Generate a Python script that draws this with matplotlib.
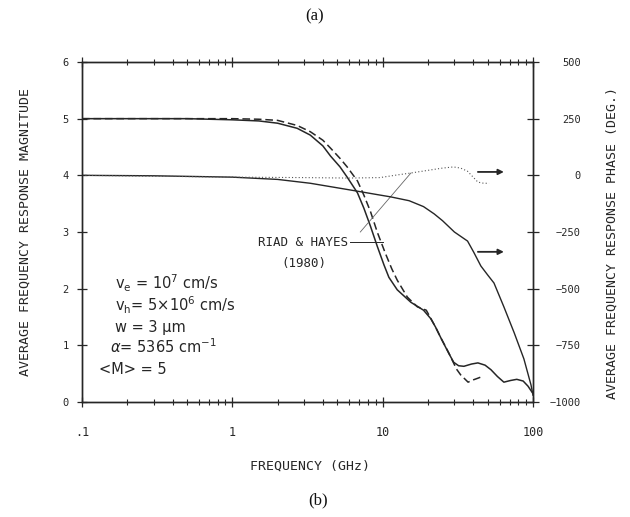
import matplotlib
matplotlib.use("Agg")
import matplotlib.pyplot as plt
from matplotlib.ticker import FixedLocator, FixedFormatter, NullFormatter

# magnitude, this work (solid)
freq_mag = [0.1, 0.5, 1.0, 1.5, 2.0, 2.7, 3.3, 4.0, 4.5, 5.2, 5.8, 6.8, 7.5, 8.3,
            9.2, 10.2, 11.0, 12.5, 15.4, 18.7, 20.9, 22.5, 24.4, 27.5, 29.7,
            32.0, 34.7, 39.0, 43.0, 48.0, 52.5, 58.0, 64.0, 71.0, 78.0, 86.0,
            92.6, 97.0, 100.0]
mag = [5.0, 5.0, 4.98, 4.96, 4.92, 4.83, 4.71, 4.52, 4.34, 4.15, 3.97, 3.69,
       3.42, 3.1, 2.75, 2.42, 2.2, 1.98, 1.76, 1.62, 1.47, 1.32, 1.13, 0.86,
       0.7, 0.64, 0.63, 0.67, 0.69, 0.65, 0.57, 0.45, 0.35, 0.38, 0.4, 0.37,
       0.28, 0.2, 0.15]

# magnitude, Riad & Hayes (1980) (dashed)
freq_rh = [0.1, 1.0, 1.5, 2.0, 2.7, 3.3, 4.0, 4.5, 5.2, 5.8, 6.8, 7.5, 8.3, 9.2,
           10.4, 11.5, 12.5, 14.6, 17.0, 19.5, 22.5, 24.4, 27.5, 29.0, 31.0,
           33.0, 37.0, 40.0, 43.0, 47.0]
mag_rh = [5.0, 5.0, 4.99, 4.97, 4.88, 4.77, 4.62, 4.48, 4.3, 4.15, 3.9, 3.65,
          3.36, 3.0, 2.63, 2.35, 2.15, 1.85, 1.68, 1.62, 1.32, 1.13, 0.87,
          0.74, 0.58, 0.48, 0.35, 0.39, 0.42, 0.46]

# phase in degrees, this work (solid)
freq_ph = [0.1, 0.3, 1.0, 2.0, 3.3, 4.5, 6.8, 9.2, 11.3, 15.0, 18.7, 22.0, 25.0,
           30.0, 36.7, 40.4, 45.0, 50.0, 55.0, 64.0, 75.0, 87.0, 97.0, 100.0]
phase = [0, -2, -8, -18, -35, -50, -70, -85, -95, -112, -138, -170, -200,
         -250, -290, -340, -400, -440, -475, -580, -695, -810, -925, -970]

# phase in degrees, Riad & Hayes (1980) (dotted)
freq_ph_rh = [0.1, 1.0, 3.0, 6.0, 9.6, 12.0, 15.3, 20.0, 25.0, 29.6, 33.0,
              36.7, 40.0, 43.0, 47.0, 51.0]
phase_rh = [0, -8, -10, -12, -10, 0, 10, 22, 32, 37, 32, 18, -8, -30, -35, -35]

x_ticks = [0.1, 1, 10, 100]
x_ticklabels = [".1", "1", "10", "100"]
mag_ticks = [0, 1, 2, 3, 4, 5, 6]
phase_ticks = [-1000, -750, -500, -250, 0, 250, 500]

INK = "#262626"
MONO = "DejaVu Sans Mono"

fig = plt.figure(figsize=(6.3, 5.17), dpi=100)
ax = fig.add_axes([82 / 630, 1 - 402 / 517, (533 - 82) / 630, (402 - 62) / 517])
ax.set_xscale("log")
ax.set_xlim(0.1, 100)
ax.set_ylim(0, 6)

ax.plot(freq_mag, mag, color=INK, lw=1.1)
ax.plot(freq_rh, mag_rh, color=INK, lw=1.1, linestyle=(0, (5, 2.5)))

ax2 = ax.twinx()
ax2.set_ylim(-1000, 500)
ax2.plot(freq_ph, phase, color=INK, lw=1.0)
ax2.plot(freq_ph_rh, phase_rh, color="#555555", lw=0.8, linestyle=(0, (1, 2)))

for a in (ax, ax2):
    for s in a.spines.values():
        s.set_color(INK)
        s.set_linewidth(1.0)

ax.xaxis.set_major_locator(FixedLocator(x_ticks))
ax.xaxis.set_major_formatter(FixedFormatter(x_ticklabels))
ax.xaxis.set_minor_formatter(NullFormatter())
ax.tick_params(axis="x", which="major", direction="inout", length=7, width=0.9,
               top=True, pad=14, labelsize=8.5, colors=INK)
ax.tick_params(axis="x", which="minor", direction="inout", length=4, width=0.8,
               top=True, colors=INK)
ax.set_yticks(mag_ticks)
ax.tick_params(axis="y", direction="inout", length=7, width=0.9, pad=6,
               labelsize=7.5, colors=INK)
ax2.set_yticks(phase_ticks)
ax2.tick_params(axis="y", direction="inout", length=9, width=0.9, pad=30,
                labelsize=7.5, colors=INK)
for lab in ax2.get_yticklabels():
    lab.set_horizontalalignment("right")
for lab in ax.get_xticklabels() + ax.get_yticklabels() + ax2.get_yticklabels():
    lab.set_family(MONO)

# reference label with leader lines
ax.text(5.9, 2.82, "RIAD & HAYES", ha="right", va="center", fontsize=9,
        family=MONO, color=INK)
ax.text(2.97, 2.45, "(1980)", ha="center", va="center", fontsize=9,
        family=MONO, color=INK)
ax.plot([6.1, 10.0], [2.82, 2.82], color=INK, lw=0.7)
ax.plot([7.1, 15.4], [3.0, 4.04], color="#666666", lw=0.6)

# arrows pointing to the phase axis
for y in (4.06, 2.65):
    ax.annotate("", xy=(64, y), xytext=(43, y),
                arrowprops=dict(arrowstyle="-|>", color=INK, lw=1.3,
                                mutation_scale=8, shrinkA=0, shrinkB=0))

params = [
    (0.166, 2.1, r"v$_\mathrm{e}$ = 10$^7$ cm/s"),
    (0.166, 1.71, r"v$_\mathrm{h}$= 5$\times$10$^6$ cm/s"),
    (0.166, 1.32, "w = 3 µm"),
    (0.154, 0.97, r"$\alpha$= 5365 cm$^{-1}$"),
    (0.13, 0.58, "<M> = 5"),
]
for x, y, s in params:
    ax.text(x, y, s, ha="left", va="center", fontsize=10.5, color=INK)

fig.text(25 / 630, 1 - 232 / 517, "AVERAGE FREQUENCY RESPONSE MAGNITUDE",
         rotation=90, ha="center", va="center", fontsize=9.5, family=MONO,
         color=INK)
fig.text(612 / 630, 1 - 243 / 517, "AVERAGE FREQUENCY RESPONSE PHASE (DEG.)",
         rotation=90, ha="center", va="center", fontsize=9.5, family=MONO,
         color=INK)
fig.text(310 / 630, 1 - 466 / 517, "FREQUENCY (GHz)", ha="center", va="center",
         fontsize=9.5, family=MONO, color=INK)
fig.text(315 / 630, 1 - 16 / 517, "(a)", ha="center", va="center",
         fontsize=12, family="Liberation Serif", color="#111111")
fig.text(318 / 630, 1 - 500 / 517, "(b)", ha="center", va="center",
         fontsize=12, family="Liberation Serif", color="#111111")

fig.savefig("out.png", dpi=100)
